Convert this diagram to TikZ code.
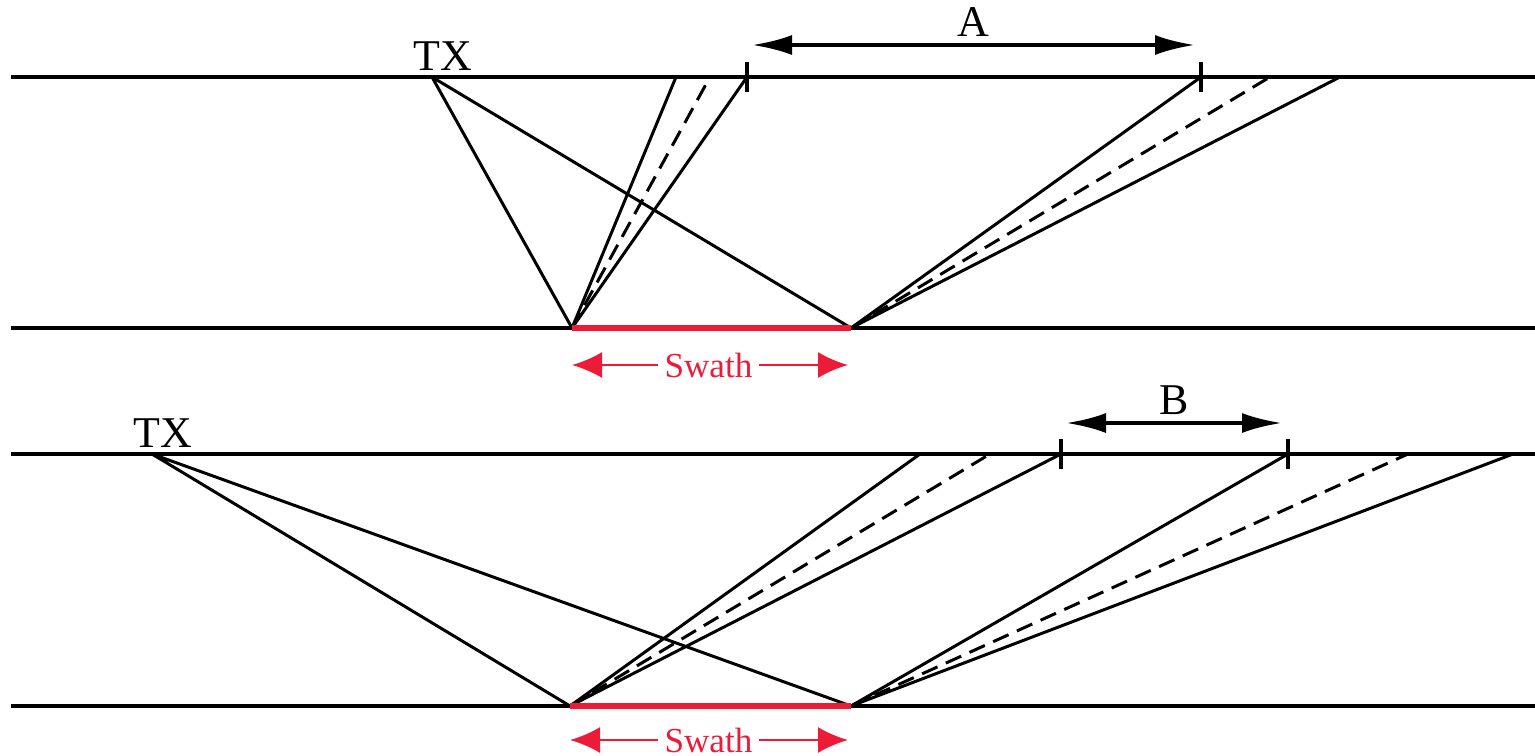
\documentclass[tikz,border=0pt]{standalone}
\usepackage{fontspec}
\setmainfont{Liberation Serif}
\usepackage{tikz}
\usetikzlibrary{arrows.meta,calc}
\definecolor{swred}{RGB}{236,28,56}

\begin{document}
\begin{tikzpicture}[
  bed/.style={black,line width=0.9pt},
  ray/.style={black,line width=0.85pt},
  dsh/.style={black,line width=0.85pt,dash pattern=on 4.8pt off 2.6pt},
  tk/.style={black,line width=0.95pt},
  dim/.style={{Latex[length=4mm,width=2mm]}-{Latex[length=4mm,width=2mm]},line width=1.2pt},
  sw/.style={swred,line width=1.6pt},
  swa/.style={swred,line width=0.65pt,-{Latex[length=3mm,width=2.6mm]}},
  swl/.style={text=swred,font=\fontsize{10}{12}\selectfont,inner sep=0.6mm},
  lab/.style={font=\fontsize{12.5}{14}\selectfont,inner sep=0pt},
  x=1cm,y=1cm]
\useasboundingbox (0,0) rectangle (15.35,7.55);

% ================= Row (top): TX close, gap A =================
\begin{scope}[yshift=4.27cm]
  \coordinate (w1) at (0.11,2.51); \coordinate (e1) at (15.35,2.51);
  \coordinate (u1) at (0.11,0);    \coordinate (v1) at (15.35,0);
  \coordinate (tx1) at (4.32,2.51);
  \coordinate (l1) at (5.72,0); \coordinate (r1) at (8.51,0);
  % reflected fans
  \coordinate (f1a) at (6.76,2.51); \coordinate (f1b) at (7.10,2.51); \coordinate (f1c) at (7.47,2.51);
  \coordinate (g1a) at (12.01,2.51); \coordinate (g1b) at (12.70,2.51); \coordinate (g1c) at (13.40,2.51);
  \draw[bed] (w1)--(e1) (u1)--(v1);
  \node[lab,anchor=base west] (txl1) at ($(tx1)+(-0.19,0.07)$) {TX};
  \draw[ray] (tx1)--(l1) (tx1)--(r1);
  \draw[ray] (l1)--(f1a) (l1)--(f1c);
  \draw[dsh] (l1)--(f1b);
  \draw[ray] (r1)--(g1a) (r1)--(g1c);
  \draw[dsh] (r1)--(g1b);
  \draw[sw] (l1)--(r1);
  % ticks + gap arrow
  \draw[tk] ([yshift=0.15cm]f1c)--([yshift=-0.15cm]f1c) ([yshift=0.15cm]g1a)--([yshift=-0.15cm]g1a);
  \draw[dim] ($(f1c)+(0.05,0.32)$)--($(g1a)+(-0.06,0.32)$)
    node[lab,midway,above=0.06cm] (gapA) {A};
  % swath
  \node[swl] (s1) at ($(l1)!0.5!(r1)+(-0.03,-0.37)$) {Swath};
  \draw[swa] (s1.west)--(s1.west -| l1);
  \draw[swa] (s1.east)--($(s1.east -| r1)+(-0.03,0)$);
\end{scope}

% ================= Row (bottom): TX far, gap B =================
\begin{scope}[yshift=0.49cm]
  \coordinate (w2) at (0.11,2.52); \coordinate (e2) at (15.35,2.52);
  \coordinate (u2) at (0.11,0);    \coordinate (v2) at (15.35,0);
  \coordinate (tx2) at (1.52,2.52);
  \coordinate (l2) at (5.70,0); \coordinate (r2) at (8.51,0);
  \coordinate (f2a) at (9.20,2.52); \coordinate (f2b) at (9.90,2.52); \coordinate (f2c) at (10.61,2.52);
  \coordinate (g2a) at (12.88,2.52); \coordinate (g2b) at (14.08,2.52); \coordinate (g2c) at (15.13,2.52);
  \draw[bed] (w2)--(e2) (u2)--(v2);
  \node[lab,anchor=base west] (txl2) at ($(tx2)+(-0.19,0.07)$) {TX};
  \draw[ray] (tx2)--(l2) (tx2)--(r2);
  \draw[ray] (l2)--(f2a) (l2)--(f2c);
  \draw[dsh] (l2)--(f2b);
  \draw[ray] (r2)--(g2a) (r2)--(g2c);
  \draw[dsh] (r2)--(g2b);
  \draw[sw] (l2)--(r2);
  \draw[tk] ([yshift=0.15cm]f2c)--([yshift=-0.15cm]f2c) ([yshift=0.15cm]g2a)--([yshift=-0.15cm]g2a);
  \draw[dim] ($(f2c)+(0.05,0.31)$)--($(g2a)+(-0.06,0.31)$)
    node[lab,midway,above=0.06cm] (gapB) {B};
  \node[swl] (s2) at ($(l2)!0.5!(r2)+(-0.02,-0.34)$) {Swath};
  \draw[swa] (s2.west)--(s2.west -| l2);
  \draw[swa] (s2.east)--($(s2.east -| r2)+(-0.03,0)$);
\end{scope}
\end{tikzpicture}
\end{document}
